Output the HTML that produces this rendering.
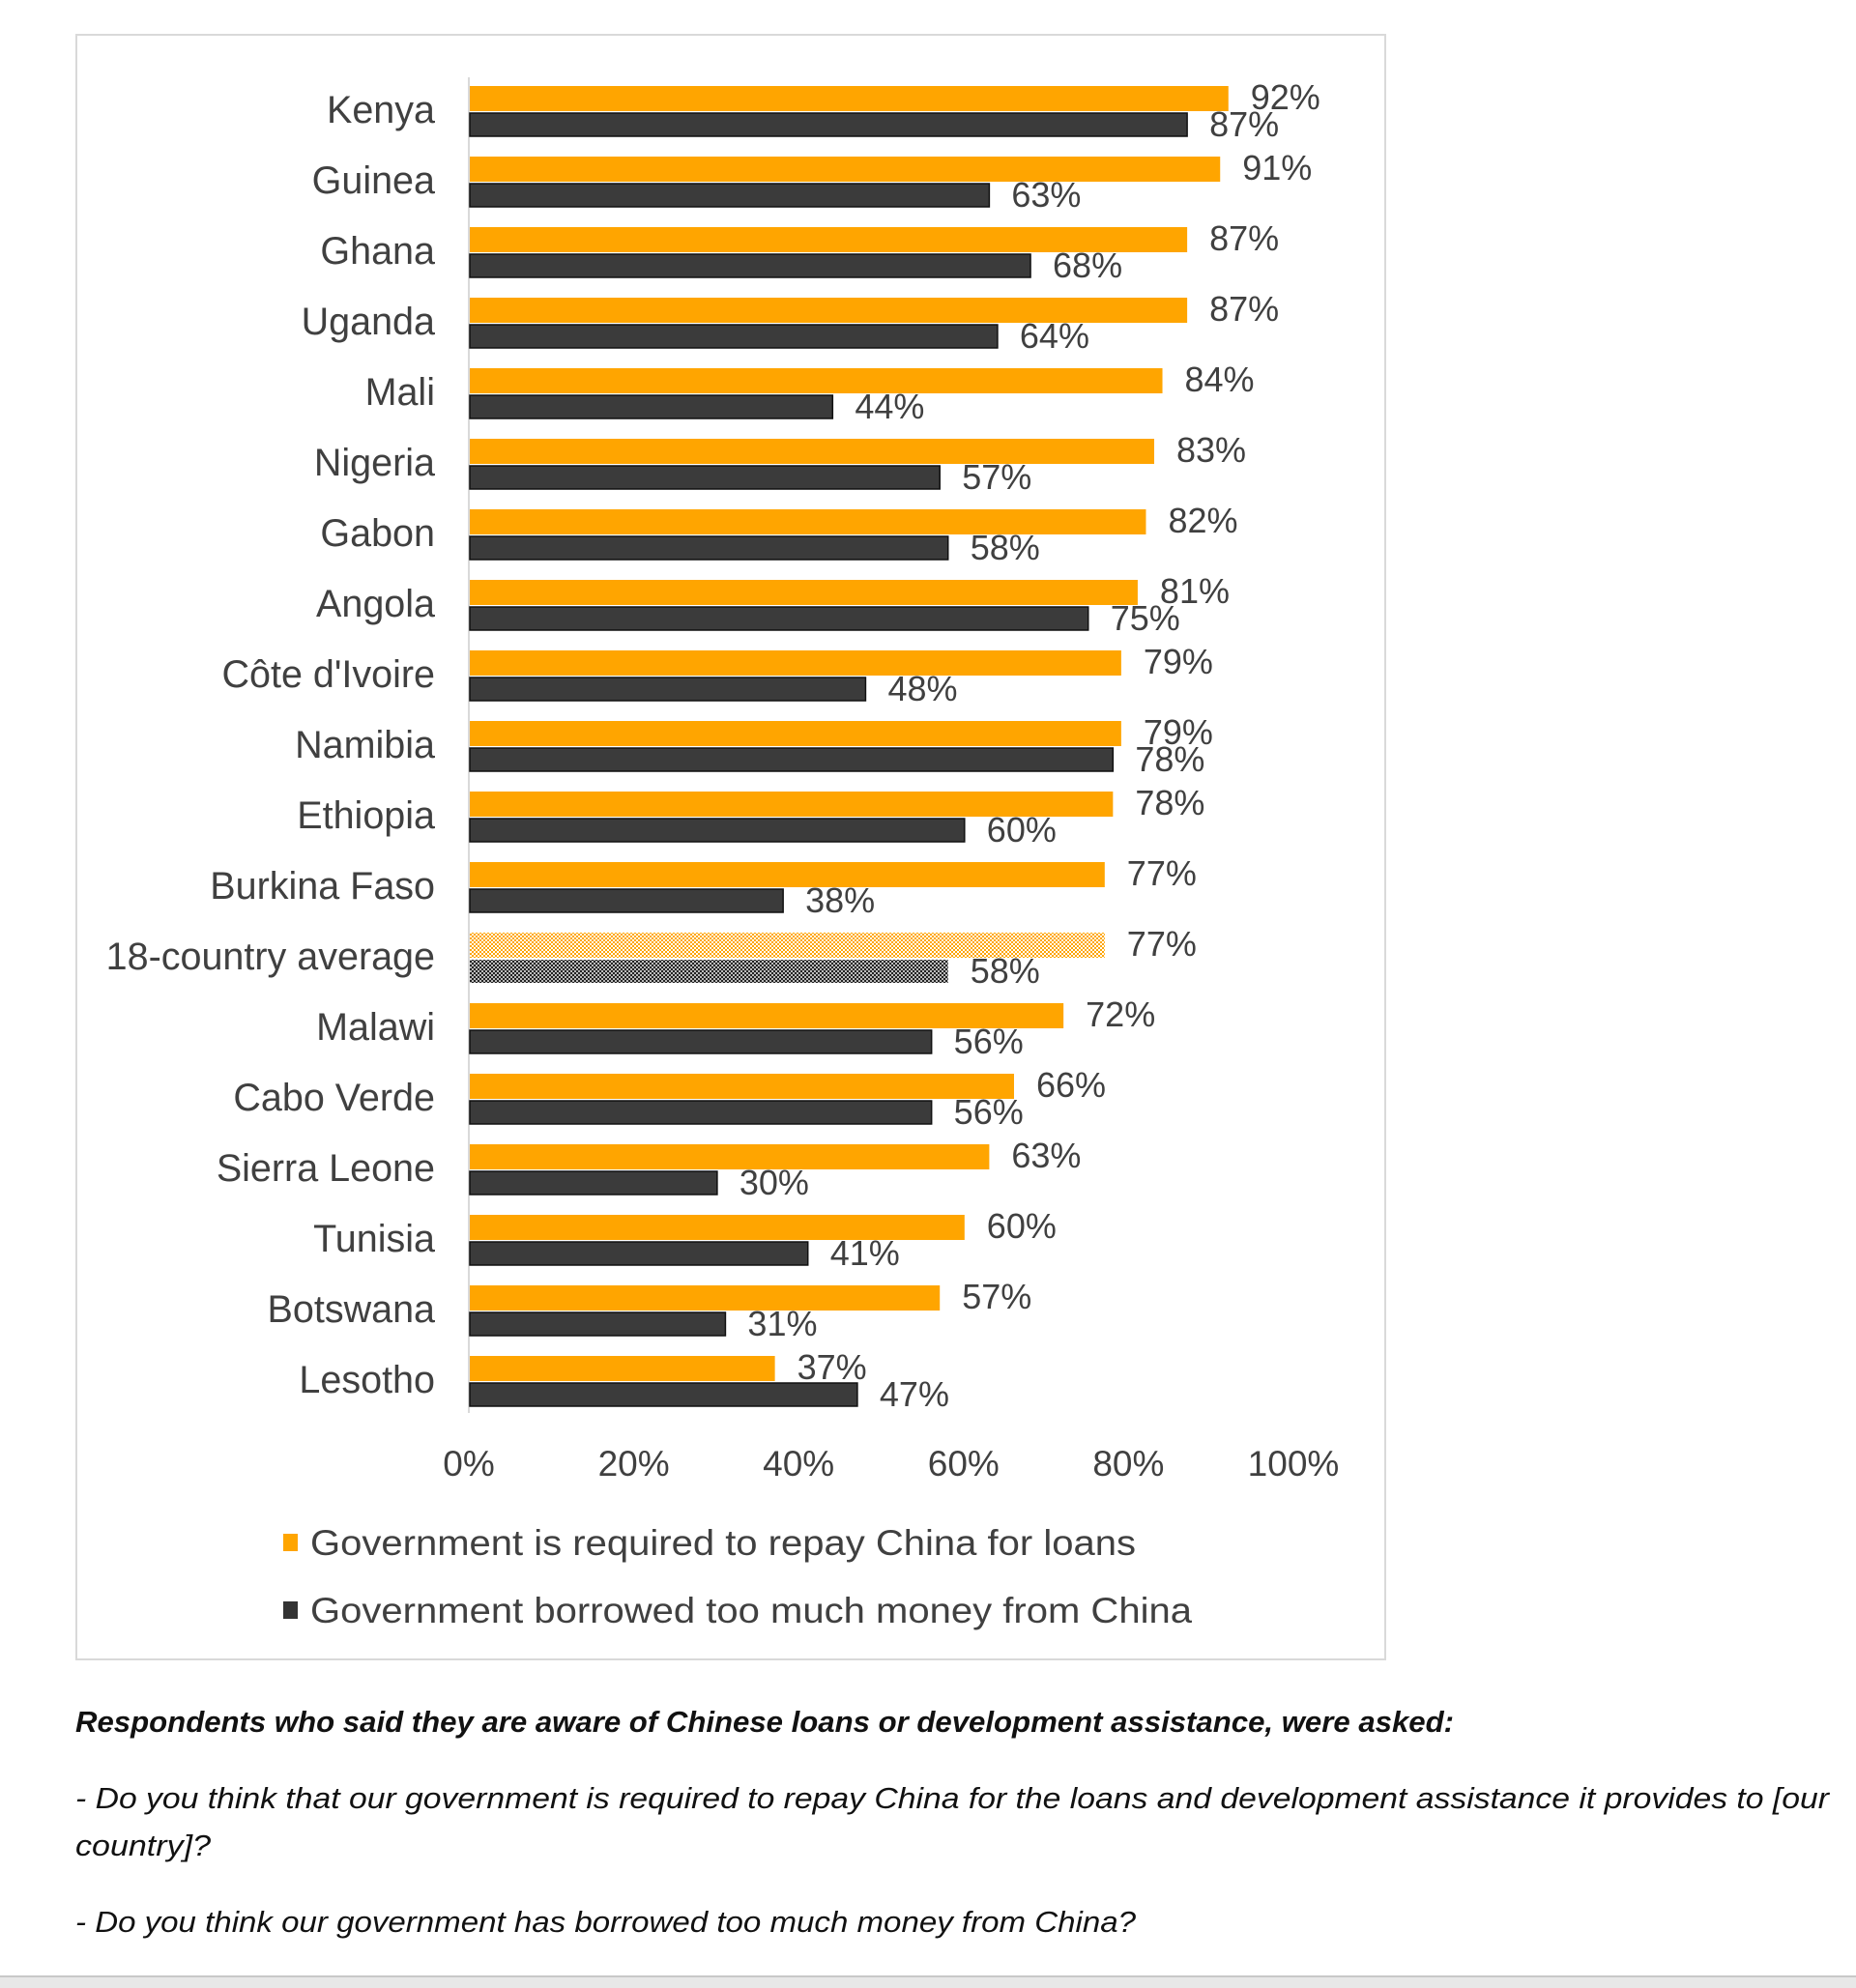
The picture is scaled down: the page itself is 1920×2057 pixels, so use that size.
<!DOCTYPE html>
<html><head><meta charset="utf-8"><style>
html,body{margin:0;padding:0;background:#fff;}
svg{display:block;}
text{font-family:"Liberation Sans",Arial,sans-serif;}
.cap{font-family:"Liberation Sans Narrow","Liberation Sans",sans-serif;font-style:italic;fill:#111;}
</style></head><body>
<svg id="chart" width="1920" height="2057" viewBox="0 0 1920 2057" xmlns="http://www.w3.org/2000/svg">
<defs>
<pattern id="hatchO" width="4" height="4" patternUnits="userSpaceOnUse"><rect width="4" height="4" fill="#fff"/><rect width="2" height="2" fill="#ffa500"/><rect x="2" y="2" width="2" height="2" fill="#ffa500"/></pattern>
<pattern id="hatchD" width="4" height="4" patternUnits="userSpaceOnUse"><rect width="4" height="4" fill="#bbb"/><rect width="2" height="2" fill="#222"/><rect x="2" y="2" width="2" height="2" fill="#222"/></pattern>
</defs>
<rect x="79" y="36" width="1354" height="1681" fill="#fff" stroke="#d9d9d9" stroke-width="2"/>
<line x1="485" y1="80" x2="485" y2="1462" stroke="#d9d9d9" stroke-width="2"/>
<g id="bars"></g>
<g id="xticks"></g>
<rect x="293" y="1587" width="15" height="18" fill="#ffa500"/>
<text x="321" y="1609" font-size="37" fill="#404040" textLength="854" lengthAdjust="spacingAndGlyphs">Government is required to repay China for loans</text>
<rect x="293" y="1657" width="15" height="18" fill="#333"/>
<text x="321" y="1679" font-size="37" fill="#404040" textLength="912" lengthAdjust="spacingAndGlyphs">Government borrowed too much money from China</text>
<text class="cap" x="78" y="1792" font-size="31" font-weight="bold" textLength="1426" lengthAdjust="spacingAndGlyphs">Respondents who said they are aware of Chinese loans or development assistance, were asked:</text>
<text class="cap" x="78" y="1871" font-size="31" textLength="1814" lengthAdjust="spacingAndGlyphs">- Do you think that our government is required to repay China for the loans and development assistance it provides to [our</text>
<text class="cap" x="78" y="1920" font-size="31" textLength="140" lengthAdjust="spacingAndGlyphs">country]?</text>
<text class="cap" x="78" y="1999" font-size="31" textLength="1097" lengthAdjust="spacingAndGlyphs">- Do you think our government has borrowed too much money from China?</text>
<rect x="0" y="2045" width="1920" height="12" fill="#e8e8e8"/>
<line x1="0" y1="2045" x2="1920" y2="2045" stroke="#c8c8c8" stroke-width="2"/>
</svg>
<script>
const categories=["Kenya","Guinea","Ghana","Uganda","Mali","Nigeria","Gabon","Angola","Côte d'Ivoire","Namibia","Ethiopia","Burkina Faso","18-country average","Malawi","Cabo Verde","Sierra Leone","Tunisia","Botswana","Lesotho"];
const repayValues=[92,91,87,87,84,83,82,81,79,79,78,77,77,72,66,63,60,57,37];
const borrowedValues=[87,63,68,64,44,57,58,75,48,78,60,38,58,56,56,30,41,31,47];
const tickValues=[0,20,40,60,80,100];
const tickLabels=["0%","20%","40%","60%","80%","100%"];
const NS="http://www.w3.org/2000/svg";
const x0=485,x1=1338,rowTop=89,rowH=73;
function xs(v){return x0+(x1-x0)*v/100;}
function ys(i){return rowTop+i*rowH;}
const g=document.getElementById('bars');
function mk(tag,attrs,parent){const e=document.createElementNS(NS,tag);for(const k in attrs)e.setAttribute(k,attrs[k]);parent.appendChild(e);return e;}
categories.forEach((c,i)=>{
  const y=ys(i);const avg=c.startsWith("18");
  const lab=mk('text',{x:450,y:y+38,'font-size':39.5,'text-anchor':'end',fill:'#404040'},g);
  lab.textContent=c;
  
  
  const b1=mk('rect',{x:x0+1,y:y,width:xs(repayValues[i])-x0,height:26,fill:avg?'url(#hatchO)':'#ffa500'},g);
  
  
  const b2=mk('rect',{x:x0+1,y:y+28,width:xs(borrowedValues[i])-x0,height:24,fill:avg?'url(#hatchD)':'#3b3b3b',stroke:avg?'none':'#111','stroke-width':1.5},g);
  
  
  const t1=mk('text',{x:xs(repayValues[i])+24,y:y+24,'font-size':36,fill:'#404040'},g);
  t1.textContent=repayValues[i]+'%';
  
  
  const t2=mk('text',{x:xs(borrowedValues[i])+24,y:y+52,'font-size':36,fill:'#404040'},g);
  t2.textContent=borrowedValues[i]+'%';
  
  
});
const tg=document.getElementById('xticks');
tickValues.forEach((v,i)=>{
  const t=mk('text',{x:xs(v),y:1527,'font-size':37,'text-anchor':'middle',fill:'#404040'},tg);
  t.textContent=tickLabels[i];
  
  
});
</script>
</body></html>
